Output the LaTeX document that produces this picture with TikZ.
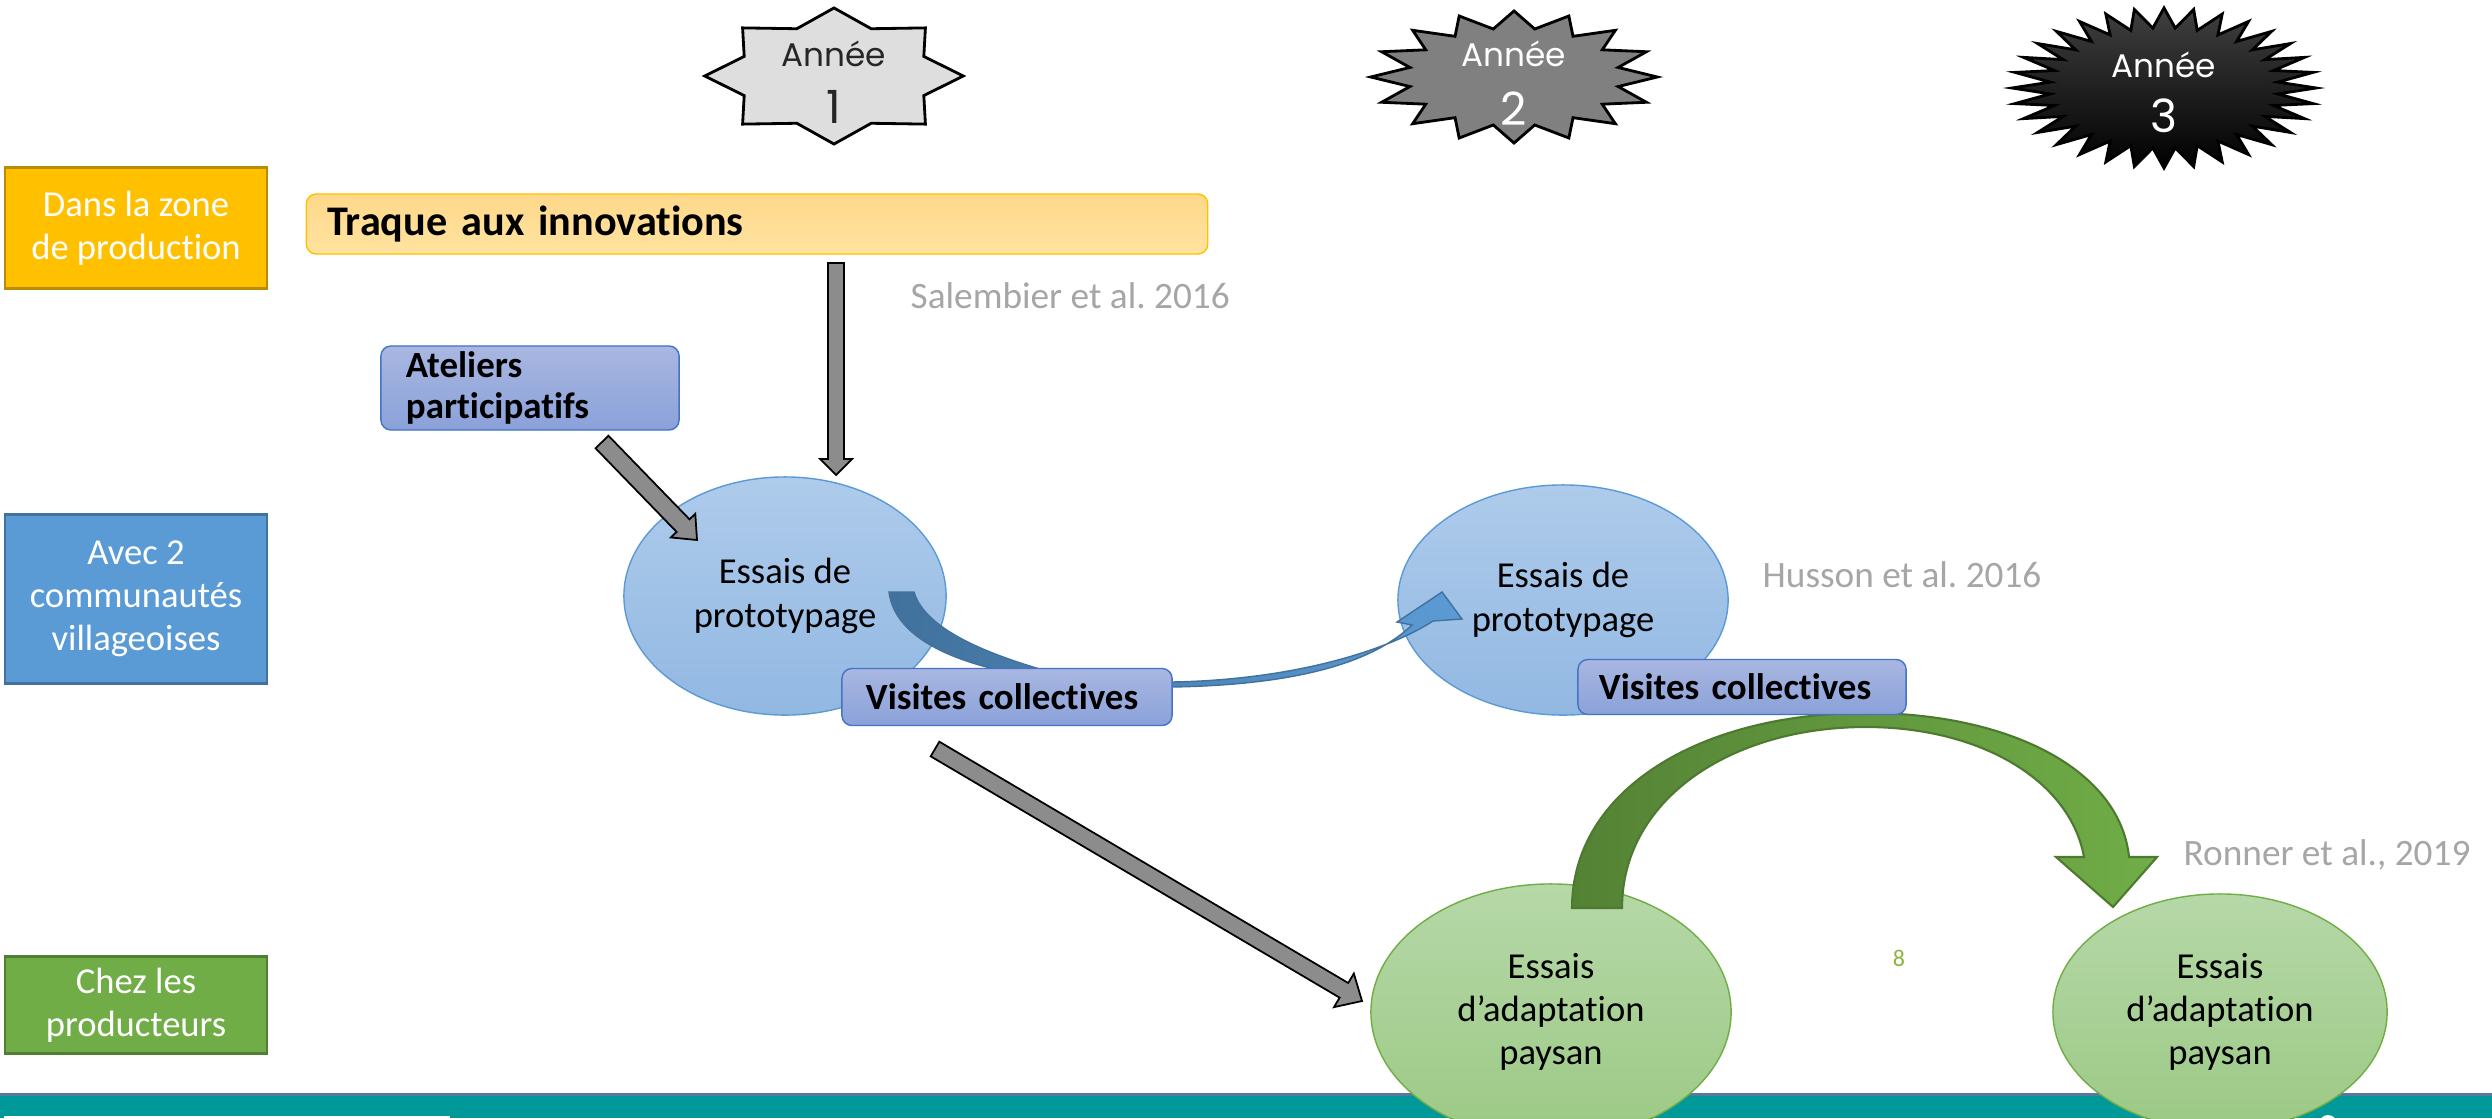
\documentclass[tikz,border=0pt]{standalone}
\usepackage{fontspec}
\setmainfont{Carlito}[Ligatures=NoCommon]
\newfontfamily\starfont{Poppins}
\usetikzlibrary{shapes.geometric,calc}
\frenchspacing

\definecolor{zonefill}{HTML}{FFC000}
\definecolor{zoneline}{HTML}{BC8C00}
\definecolor{villfill}{HTML}{5B9BD5}
\definecolor{villline}{HTML}{41719C}
\definecolor{prodfill}{HTML}{70AD47}
\definecolor{prodline}{HTML}{507E32}
\definecolor{traqtop}{HTML}{FFD88A}
\definecolor{traqbot}{HTML}{FFE3A0}
\definecolor{boxtop}{HTML}{A9B7E1}
\definecolor{boxbot}{HTML}{8AA1D9}
\definecolor{boxline}{HTML}{4472C4}
\definecolor{protop}{HTML}{AECBEB}
\definecolor{probot}{HTML}{92B8E2}
\definecolor{proline}{HTML}{5B9BD5}
\definecolor{adatop}{HTML}{B6D8A8}
\definecolor{adabot}{HTML}{9CC985}
\definecolor{adaline}{HTML}{70AD47}
\definecolor{arrowgray}{HTML}{8C8C8C}
\definecolor{citegray}{HTML}{A6A6A6}
\definecolor{footteal}{HTML}{009999}
\definecolor{footline}{HTML}{5878A0}
\definecolor{arcdark}{HTML}{548235}
\definecolor{arclight}{HTML}{70AD47}
\definecolor{arcline}{HTML}{4E7A30}
\definecolor{bendark}{HTML}{41719C}
\definecolor{benlight}{HTML}{5B9BD5}
\definecolor{pagegreen}{HTML}{8DB43C}

\newcommand{\blockarrow}[5]{%
  \coordinate (ba) at ($(#2)!#5!(#1)$);
  \filldraw[fill=arrowgray, draw=black, line width=0.5pt]
    ($(#1)!#3!90:(#2)$) -- ($(ba)!#3!90:(#2)$) -- ($(ba)!#4!90:(#2)$) -- (#2)
    -- ($(ba)!#4!-90:(#2)$) -- ($(ba)!#3!-90:(#2)$) -- ($(#1)!#3!-90:(#2)$) -- cycle;
}

\begin{document}
\begin{tikzpicture}[x=0.01cm,y=-0.01cm,
  every node/.style={font=\fontsize{10.4}{12.3}\selectfont},
  lane/.style={draw, line width=0.8pt, text=white, align=center, minimum width=2.62cm, inner sep=0},
  yearstar/.style={star, inner sep=0, draw=black, line width=0.8pt},
  yeartxt/.style={anchor=base, inner sep=0, font=\starfont\fontsize{9.3}{11}\selectfont},
  yearnum/.style={anchor=base, inner sep=0, font=\starfont\fontsize{13}{15}\selectfont},
  bluebox/.style={draw=boxline, top color=boxtop, bottom color=boxbot, rounded corners=0.1cm,
    inner ysep=0, align=left, font=\bfseries\fontsize{10.5}{11.9}\selectfont},
  proto/.style={ellipse, draw=proline, top color=protop, bottom color=probot, inner sep=0, align=center},
  adapt/.style={ellipse, draw=adaline, top color=adatop, bottom color=adabot, inner sep=0, align=center},
  cite/.style={anchor=west, inner sep=0, text=citegray, font=\fontsize{10.6}{12}\selectfont}]
\useasboundingbox (0,0) rectangle (2492,1118);
\clip (0,0) rectangle (2492,1118);
\fill[white] (0,0) rectangle (2492,1118);

\fill[footline] (0,1093) rectangle (2492,1096);
\fill[footteal] (0,1096) rectangle (2492,1118);
\fill[white] (4,1116) rectangle (450,1119);
\fill[white] (2328,1124) circle (9);

\node[lane, fill=zonefill, draw=zoneline, minimum height=1.21cm] (zone) at (136,228) {Dans la zone\\de production};
\node[lane, fill=villfill, draw=villline, minimum height=1.69cm] (vill) at (136,599) {Avec 2\\communautés\\villageoises};
\node[lane, fill=prodfill, draw=prodline, minimum height=0.97cm] (prod) at (136,1005) {Chez les\\producteurs};

\node[yearstar, star points=8, star point ratio=1.33, minimum size=1.36cm, xscale=1.9, fill=black!13] (y1) at (834,76) {};
\node[yeartxt, text=black!85] (y1a) at (834,67) {Année};
\node[yearnum, text=black!85] (y1n) at (834,123) {1};
\node[yearstar, star points=16, star point ratio=1.35, minimum size=1.32cm, xscale=2.17, fill=black!50] (y2) at (1514,77) {};
\node[yeartxt, text=white] (y2a) at (1514,67) {Année};
\node[yearnum, text=white] (y2n) at (1514,125) {2};
\node[yearstar, star points=32, star point ratio=1.33, minimum size=1.60cm, xscale=1.9, top color=black!75, bottom color=black] (y3) at (2164,88) {};
\node[yeartxt, text=white] (y3a) at (2164,77) {Année};
\node[yearnum, text=white] (y3n) at (2164,132) {3};

\node[draw=zonefill, top color=traqtop, bottom color=traqbot, rounded corners=0.1cm, minimum height=0.60cm,
  text width=8.59cm, inner xsep=0.21cm, inner ysep=0, align=left, font=\bfseries\fontsize{12}{14}\selectfont] (traque) at (757,224) {Traque aux innovations};
\node[bluebox, minimum height=0.84cm, text width=2.48cm, inner xsep=0.25cm] (atel) at (530,388) {Ateliers\\participatifs};

\node[proto, minimum width=3.22cm, minimum height=2.38cm] (e1) at (785,596) {Essais de\\prototypage};
\node[proto, minimum width=3.30cm, minimum height=2.30cm] (e2) at (1563,600) {Essais de\\prototypage};
\node[adapt, minimum width=3.60cm, minimum height=2.56cm] (e3) at (1551,1012) {Essais\\d’adaptation\\paysan};
\node[adapt, minimum width=3.34cm, minimum height=2.36cm] (e4) at (2220,1012) {Essais\\d’adaptation\\paysan};

\coordinate (a1t) at (836,263);
\coordinate (a1h) at (836,475);
\coordinate (a2t) at (602,442);
\coordinate (a2h) at (697,540);
\coordinate (a3t) at (935,749);
\coordinate (a3h) at (1362,1001);
\blockarrow{a1t}{a1h}{0.08cm}{0.16cm}{0.16cm}
\blockarrow{a2t}{a2h}{0.09cm}{0.17cm}{0.20cm}
\blockarrow{a3t}{a3h}{0.085cm}{0.195cm}{0.21cm}

\draw[left color=bendark, right color=benlight, draw=bendark, line width=0.4pt]
  (889,592) .. controls (895,640) and (960,665) .. (1030,676) -- (1172,687)
  .. controls (1290,685) and (1370,665) .. (1412,625) -- (1397,622) -- (1442,592) -- (1462,619) -- (1433,621)
  .. controls (1385,652) and (1290,680) .. (1172,682) -- (1050,672)
  .. controls (990,655) and (925,630) .. (914,592) -- cycle;

\draw[left color=arcdark, right color=arclight, draw=arcline, line width=0.6pt]
  (1572,908) .. controls (1572,790) and (1700,713) .. (1866,713)
  .. controls (2010,713) and (2120,770) .. (2129,857) -- (2157,857) -- (2113,907) -- (2056,857) -- (2084,857)
  .. controls (2070,780) and (1980,727) .. (1866,727)
  .. controls (1730,727) and (1622,800) .. (1622,908) -- cycle;

\node[bluebox, minimum height=0.57cm, text width=2.82cm, inner xsep=0.24cm] (vis1) at (1007,697) {Visites collectives};
\node[bluebox, minimum height=0.55cm, text width=2.86cm, inner xsep=0.21cm] (vis2) at (1742,687) {Visites collectives};

\node[cite] (c1) at (910,296) {Salembier et al. 2016};
\node[cite] (c2) at (1762,575) {Husson et al. 2016};
\node[cite] (c3) at (2183,855) {Ronner et al., 2019};
\node[text=pagegreen, font=\fontsize{6.8}{8}\selectfont] (pg) at (1899,958) {8};
\end{tikzpicture}
\end{document}
